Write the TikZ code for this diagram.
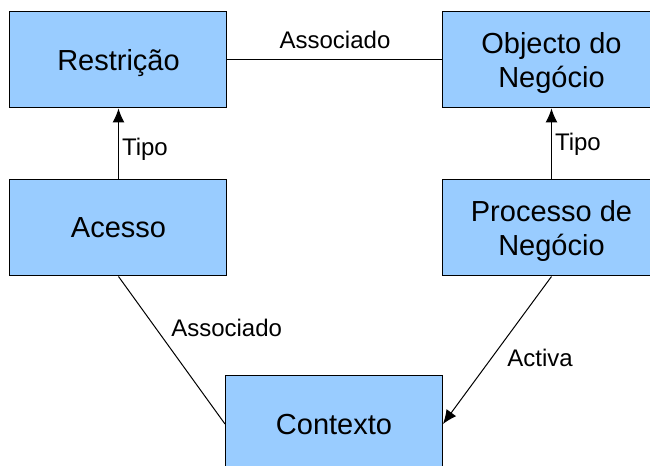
\documentclass[tikz,border=0pt]{standalone}
\usepackage{fontspec}
\setmainfont{Liberation Sans}
\usetikzlibrary{arrows.meta}
\usetikzlibrary{positioning}
\definecolor{boxblue}{RGB}{153,204,255}
\tikzstyle{entity}=[rectangle,fill=boxblue,draw=black,line width=0.5pt,minimum width=108.5pt,minimum height=48pt,inner sep=0pt,text depth=0pt,align=center,font=\fontsize{14.5}{16.7}\selectfont]
\tikzstyle{edge} = [draw,line width=0.5pt,-{Latex[length=7pt,width=6pt]}]
\tikzstyle{undirectededge} = [draw,line width=0.5pt]
\tikzstyle{weight} = [font=\fontsize{12}{14}\selectfont,inner sep=1.5pt]

\begin{document}
\begin{tikzpicture}[x=0.5pt,y=-0.5pt]
    \useasboundingbox (0,0) rectangle (650,466);

    \foreach \pos/\name/\label in {{(118.5,60)/Restricao/Restrição}, {(551.5,60)/Objecto/Objecto do\\Negócio},
                                   {(118.5,228)/Acesso/Acesso}, {(551.5,228)/Processo/Processo de\\Negócio},
                                   {(334,424)/Contexto/Contexto}}
        \node[entity] (\name) at \pos {\label};

    \path[undirectededge] (Restricao) -- node[weight,above=4pt] {Associado} (Objecto);
    \path[edge] (Acesso) -- node[weight,right,pos=0.43] {Tipo} (Restricao);
    \path[edge] (Processo) -- node[weight,right,pos=0.49] {Tipo} (Objecto);
    \path[undirectededge] (Acesso.south) -- node[weight,anchor=west,pos=0.35,xshift=6pt] {Associado} (Contexto.west);
    \path[edge] (Processo.south) -- node[weight,anchor=west,pos=0.55,xshift=6pt] {Activa} (Contexto.east);

\end{tikzpicture}
\end{document}
